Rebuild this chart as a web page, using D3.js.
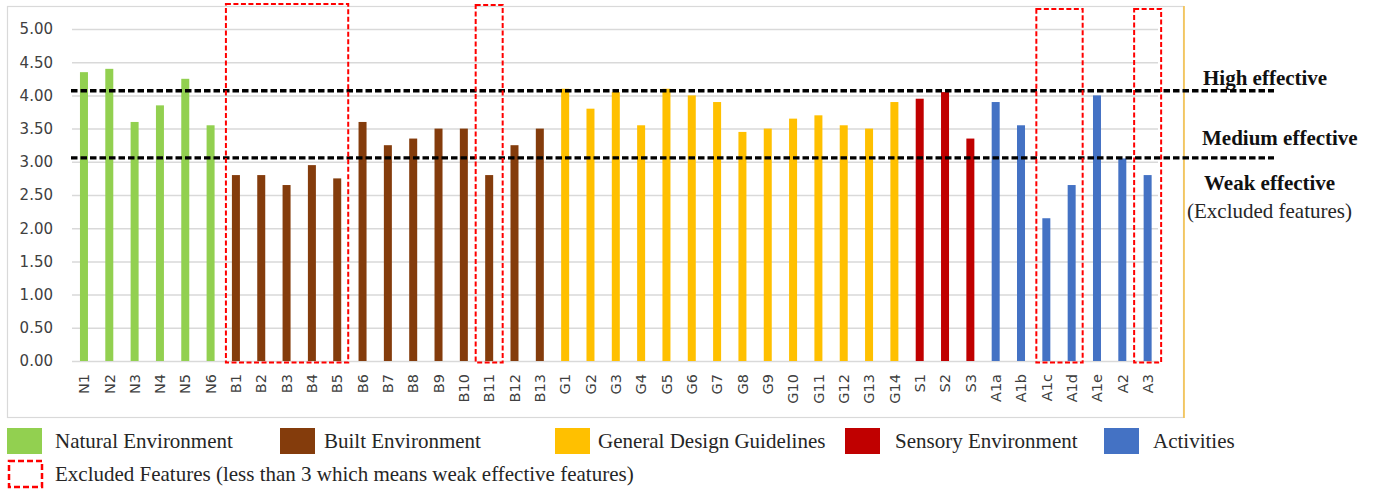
<!DOCTYPE html>
<html>
<head>
<meta charset="utf-8">
<script src="https://cdn.jsdelivr.net/npm/d3@7"></script>
<style>
  html, body { margin: 0; padding: 0; background: #fff; }
  svg { display: block; }
</style>
</head>
<body>
<svg id="chart" width="1376" height="490"></svg>
<script>
// Feature codes along the x axis
const categories = [
  "N1","N2","N3","N4","N5","N6",
  "B1","B2","B3","B4","B5","B6","B7","B8","B9","B10","B11","B12","B13",
  "G1","G2","G3","G4","G5","G6","G7","G8","G9","G10","G11","G12","G13","G14",
  "S1","S2","S3",
  "A1a","A1b","A1c","A1d","A1e","A2","A3"
];

// Mean effectiveness score per feature
const scores = [
  4.35, 4.40, 3.60, 3.85, 4.25, 3.55,
  2.80, 2.80, 2.65, 2.95, 2.75, 3.60, 3.25, 3.35, 3.50, 3.50, 2.80, 3.25, 3.50,
  4.10, 3.80, 4.05, 3.55, 4.10, 4.00, 3.90, 3.45, 3.50, 3.65, 3.70, 3.55, 3.50, 3.90,
  3.95, 4.05, 3.35,
  3.90, 3.55, 2.15, 2.65, 4.00, 3.05, 2.80
];

// Group of each feature (index into groupNames)
const groupOf = [
  0,0,0,0,0,0,
  1,1,1,1,1,1,1,1,1,1,1,1,1,
  2,2,2,2,2,2,2,2,2,2,2,2,2,2,
  3,3,3,
  4,4,4,4,4,4,4
];

const groupNames = [
  "Natural Environment",
  "Built Environment",
  "General Design Guidelines",
  "Sensory Environment",
  "Activities"
];
const groupColors = ["#92d050", "#843c0c", "#ffc000", "#c00000", "#4472c4"];

// Y axis tick values
const yTicks = [0, 0.5, 1, 1.5, 2, 2.5, 3, 3.5, 4, 4.5, 5];

// Threshold lines and their zone captions
const thresholdValues = [4.07, 3.06];
const zoneLabels = ["High effective", "Medium effective", "Weak effective"];
const zoneNote = "(Excluded features)";

// Excluded feature runs (first, last) framed with red dashes
const excludedRuns = [["B1","B5"], ["B11","B11"], ["A1c","A1d"], ["A3","A3"]];
const excludedNote = "Excluded Features (less than 3 which means weak effective features)";

const svg = d3.select("#chart");
const serif = "'Liberation Serif', 'Times New Roman', serif";
const sans = "'DejaVu Sans', Verdana, sans-serif";

// chart frame
svg.append("rect")
  .attr("x", 7.5).attr("y", 6.5).attr("width", 1176).attr("height", 411)
  .attr("fill", "#fff").attr("stroke", "#d9d9d9").attr("stroke-width", 1.2);
svg.append("line")
  .attr("x1", 1184).attr("x2", 1184).attr("y1", 6).attr("y2", 418)
  .attr("stroke", "#f4c04a").attr("stroke-width", 1.6);

const x = d3.scaleBand().domain(categories).range([71.3, 1160.3]).padding(0);
const y = d3.scaleLinear().domain([0, 5]).range([361, 29]);
const barW = 8;
const cx = c => x(c) + x.bandwidth() / 2;

// gridlines + y labels
const yAxis = d3.axisLeft(y)
  .tickValues(yTicks)
  .tickFormat(d3.format(".2f"))
  .tickSize(-(1158 - 72))
  .tickPadding(19);
const gy = svg.append("g").attr("transform", "translate(72,0)").call(yAxis);
gy.select(".domain").remove();
gy.selectAll(".tick line").attr("stroke", "#d9d9d9").attr("stroke-width", 1.5);
gy.selectAll(".tick text")
  .attr("fill", "#404040")
  .style("font-family", sans).style("font-size", "15px");

// bars
svg.append("g").selectAll("rect")
  .data(categories)
  .join("rect")
  .attr("x", (d) => cx(d) - barW / 2)
  .attr("width", barW)
  .attr("y", (d, i) => y(scores[i]))
  .attr("height", (d, i) => y(0) - y(scores[i]))
  .attr("fill", (d, i) => groupColors[groupOf[i]]);

// x labels (rotated)
svg.append("g").selectAll("text")
  .data(categories)
  .join("text")
  .attr("transform", d => `translate(${cx(d)},374) rotate(-90)`)
  .attr("dy", "0.36em")
  .attr("text-anchor", "end")
  .attr("fill", "#404040")
  .style("font-family", sans).style("font-size", "14.5px")
  .text(d => d);

// threshold dashed lines
svg.append("g").selectAll("line")
  .data(thresholdValues)
  .join("line")
  .attr("x1", 71).attr("x2", 1274)
  .attr("y1", d => y(d)).attr("y2", d => y(d))
  .attr("stroke", "#000").attr("stroke-width", 3.3)
  .attr("stroke-dasharray", "6.5,3");

// excluded feature frames
const boxTops = [4, 5, 9, 9];
svg.append("g").selectAll("rect")
  .data(excludedRuns)
  .join("rect")
  .attr("x", (d) => cx(d[0]) - (d[0] === d[1] ? 13.5 : 10))
  .attr("width", (d) => cx(d[1]) - cx(d[0]) + (d[0] === d[1] ? 27 : 21))
  .attr("y", (d, i) => boxTops[i])
  .attr("height", (d, i) => y(0) + 1.5 - boxTops[i])
  .attr("fill", "none")
  .attr("stroke", "#ff0000").attr("stroke-width", 2)
  .attr("stroke-dasharray", "5,2.5");

// zone captions on the right
const zoneY = [78, 138, 183];
const zoneX = [1203, 1202, 1204];
svg.append("g").selectAll("text")
  .data(zoneLabels)
  .join("text")
  .attr("x", (d, i) => zoneX[i]).attr("y", (d, i) => zoneY[i])
  .attr("dy", "0.35em")
  .attr("fill", "#111")
  .style("font-family", serif).style("font-size", "21px").style("font-weight", "bold")
  .text(d => d);
svg.append("text")
  .attr("x", 1187).attr("y", 211).attr("dy", "0.35em")
  .attr("fill", "#262626")
  .style("font-family", serif).style("font-size", "21px")
  .text(zoneNote);

// legend
const legSwatchX = [7, 280, 555, 845, 1104];
const legTextX = [55, 324, 598, 895, 1153];
const legend = svg.append("g").selectAll("g")
  .data(groupNames)
  .join("g");
legend.append("rect")
  .attr("x", (d, i) => legSwatchX[i]).attr("y", 428)
  .attr("width", 35).attr("height", 26)
  .attr("fill", (d, i) => groupColors[i]);
legend.append("text")
  .attr("x", (d, i) => legTextX[i]).attr("y", 441).attr("dy", "0.35em")
  .attr("fill", "#262626")
  .style("font-family", serif).style("font-size", "21px")
  .text(d => d);

svg.append("rect")
  .attr("x", 9).attr("y", 461).attr("width", 33).attr("height", 26)
  .attr("fill", "none").attr("stroke", "#ff0000").attr("stroke-width", 2.5)
  .attr("stroke-dasharray", "6,3");
svg.append("text")
  .attr("x", 55).attr("y", 474).attr("dy", "0.35em")
  .attr("fill", "#262626")
  .style("font-family", serif).style("font-size", "21px")
  .text(excludedNote);
</script>
</body>
</html>
